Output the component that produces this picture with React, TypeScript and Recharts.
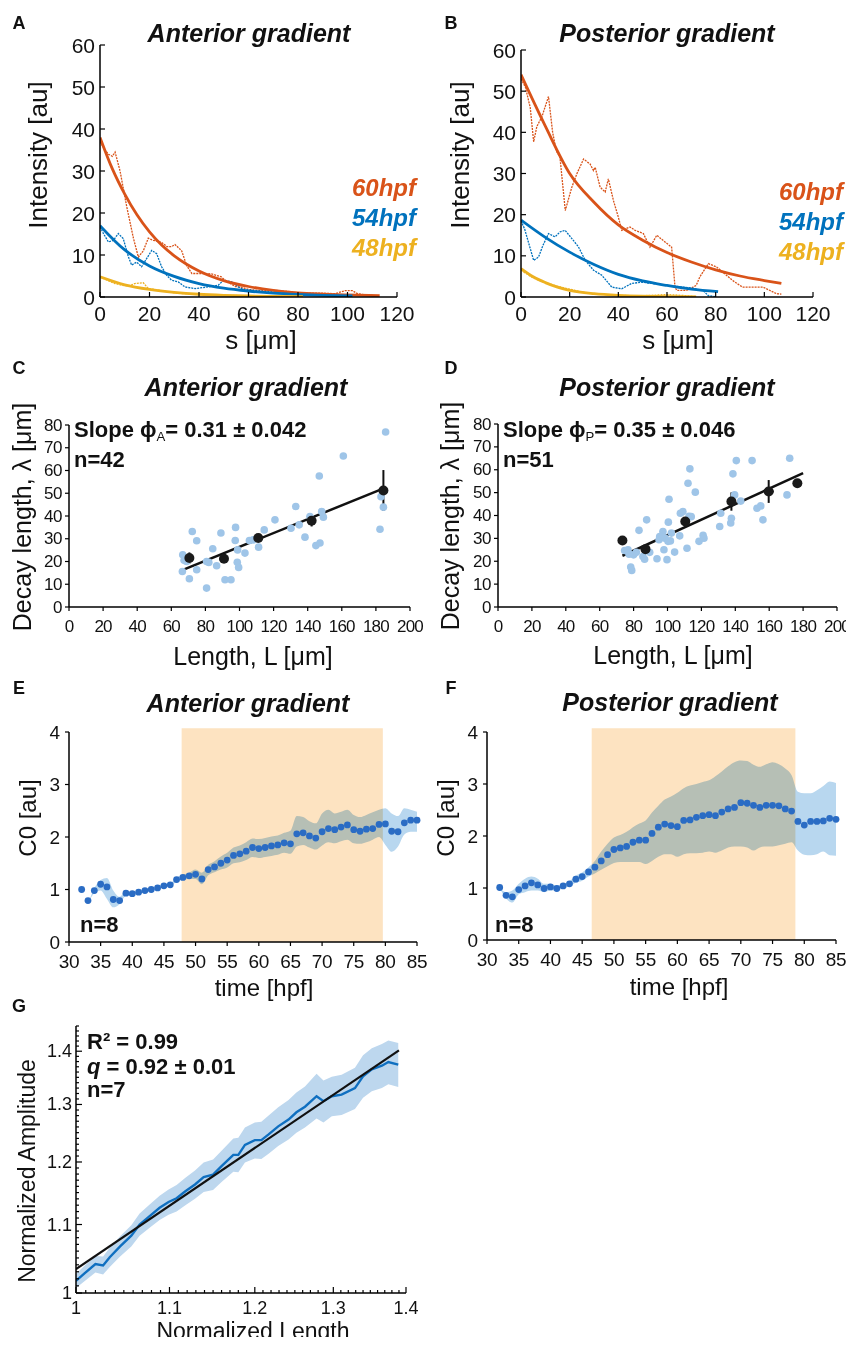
import React from 'react';
import {
  ComposedChart,
  Line,
  Area,
  Scatter,
  XAxis,
  YAxis,
  ErrorBar,
  ReferenceArea,
} from 'recharts';

const FONT = '"Liberation Sans", Arial, Helvetica, sans-serif';
const RED = '#d95319';
const BLUE = '#0072bd';
const GOLD = '#edb120';

// ---------- A / B : intensity profiles, [s, intensity] ----------
const aFit60 = [[0, 38], [5, 30.5], [10, 24.5], [15, 19.5], [20, 15.5], [25, 12.3], [30, 9.8], [35, 7.8], [40, 6.2], [50, 3.9], [60, 2.5], [70, 1.6], [80, 1.0], [90, 0.7], [100, 0.5], [113, 0.3]];
const aFit54 = [[0, 17], [10, 11.2], [20, 7.4], [30, 4.9], [40, 3.2], [50, 2.1], [60, 1.4], [70, 0.9], [80, 0.6], [90, 0.4], [102, 0.25]];
const aFit48 = [[0, 4.8], [10, 2.9], [20, 1.8], [30, 1.1], [40, 0.65], [50, 0.4], [60, 0.25], [70, 0.15], [82, 0.1]];
const aRaw60 = [[0, 37], [2, 35], [3.4, 34], [5, 33.5], [6.1, 34.5], [8.1, 30], [10.8, 21.5], [13.5, 14], [15.5, 9.5], [17.5, 11], [19.5, 14], [21.5, 13.5], [24.9, 13], [27, 12], [28.9, 12], [30.3, 12.5], [33, 11], [35, 7.5], [37.1, 5.6], [41, 5.6], [45, 5.5], [49, 4.8], [50.5, 4], [54.6, 2.5], [57.3, 2.3], [60, 1.8], [65, 1.5], [70, 1.6], [75, 1.4], [80, 1.0], [85, 0.9], [90, 0.9], [95, 0.8], [99, 1.5], [102, 1.5], [104, 0.8], [108, 0.4], [113, 0.3]];
const aRaw54 = [[0, 16.7], [1.4, 15.1], [3.4, 13.1], [5.4, 13.5], [7.4, 15.1], [9.4, 13.9], [11.5, 9.5], [12.8, 7.6], [14.8, 8.3], [16.8, 7.2], [18.9, 9.2], [20.9, 11.1], [22.9, 10.3], [24.9, 7.2], [26.9, 5.2], [28.9, 4.0], [31.6, 3.6], [34.3, 2.4], [38.4, 2.0], [43.7, 2.4], [47.8, 2.8], [49.9, 4.0], [53.2, 3.6], [55.9, 2.4], [58, 1.8], [65, 1.4], [75, 1.0], [85, 0.8], [95, 0.6], [102, 0.5]];
const aRaw48 = [[0, 4.8], [3, 4.0], [6, 3.2], [9, 2.8], [11.5, 2.6], [14, 3.2], [17.5, 3.4], [19.5, 2.0], [25, 1.5], [31, 0.9], [40, 0.6], [50, 0.4], [60, 0.3], [70, 0.2], [82, 0.1]];

const bFit60 = [[0, 54], [10, 41.5], [20, 30], [30, 23], [40, 17.5], [50, 13.8], [60, 10.8], [70, 8.5], [80, 6.6], [90, 5.1], [100, 4.0], [107, 3.3]];
const bFit54 = [[0, 18.7], [10, 14.5], [20, 10.9], [30, 7.9], [40, 5.5], [50, 3.9], [60, 2.8], [70, 1.9], [81, 1.3]];
const bFit48 = [[0, 6.9], [5, 4.9], [10, 3.5], [15, 2.4], [20, 1.6], [30, 0.8], [40, 0.4], [50, 0.2], [60, 0.1], [72, 0.05]];
const bRaw60 = [[0, 53], [1.8, 51], [3.8, 46], [5.2, 37.7], [6.5, 41.4], [8.6, 43.8], [11.3, 48.7], [13, 40], [14.5, 35.5], [16, 34], [18.2, 21], [20.9, 26.7], [23, 30], [25.7, 33.5], [28.4, 32.3], [29.8, 30.7], [30.5, 31.5], [32.5, 26.7], [34.6, 25.5], [35.9, 28.7], [38, 23.4], [40, 19.4], [41.4, 16.2], [44.8, 17], [46.9, 16.2], [50.3, 15.4], [53, 12.1], [55.8, 15], [58.5, 13.7], [61.9, 12.1], [63.3, 2.4], [64, 1.6], [68, 1.6], [72, 2.8], [73.5, 4.9], [77, 8.1], [80.4, 7.3], [83, 6], [87, 4], [91, 2.4], [99.5, 2.4], [105, 0.8], [107, 0.7]];
const bRaw54 = [[0, 18.5], [1.5, 16.5], [3.2, 13], [5.2, 8.9], [7.2, 9.7], [9, 12.5], [11.3, 15.4], [14, 14.6], [16, 15.8], [18.1, 16.2], [20.9, 14.2], [23.6, 12.2], [26.4, 8.9], [29.8, 6.5], [33.2, 5.3], [37.3, 2.4], [41.4, 2.0], [45.5, 3.3], [49.6, 3.6], [55, 3.2], [60, 2.8], [65, 2.5], [70, 2.2], [75, 1.5], [77, 0.3], [80, 0.1]];
const bRaw48 = [[0, 6.5], [5, 4.6], [10, 3.5], [15, 2.6], [20, 1.9], [25, 1.2], [30, 0.8], [40, 0.4], [50, 0.3], [60, 0.6], [66, 0.4], [72, 0.1]];

const sTicks = [0, 20, 40, 60, 80, 100, 120];
const intensityTicks = [0, 10, 20, 30, 40, 50, 60];

// ---------- C / D : decay length vs length, [L, lambda] ----------
const cPoints = [[66.7, 23], [66.5, 15.6], [72.3, 33.2], [74.9, 29.1], [69, 20], [70.6, 12.4], [74.9, 16.4], [80.7, 20], [82, 19.6], [80.7, 8.3], [84.3, 25.6], [86.6, 18.1], [89.1, 32.5], [91.5, 12], [95, 12], [97.7, 35], [97.5, 29.2], [98.9, 25.1], [98.7, 19.7], [99.5, 17.4], [103.2, 23.7], [105.8, 29.2], [108, 29.5], [111.2, 26.3], [114.5, 33.9], [120.8, 38.3], [130.2, 34.6], [133, 44.2], [135, 36.1], [138.4, 30.7], [141.3, 39.8], [144.8, 27], [147.2, 28.1], [146.8, 57.6], [148.2, 42], [149.2, 39.5], [160.9, 66.4], [182.4, 34.2], [183, 48.5], [184.4, 43.9], [185.7, 76.9], [67.5, 20.5]];
// [L, lambda, yErr, xErr]
const cMeans = [[70.6, 21.5, 2.5, 0], [90.9, 21.2, 1.5, 0], [111, 30.3, 1.5, 0], [142.3, 37.9, 2.5, 0], [184.4, 51.2, 9, 0]];
const cFit = [[66.1, 16.1], [182.4, 51.5]];

const dPoints = [[74.7, 24.7], [77.3, 23.1], [78.3, 17.5], [78.9, 16], [80, 22.8], [81.6, 23.9], [83.2, 33.5], [86.5, 20.9], [87.7, 38.1], [89.5, 23.9], [93.8, 21.1], [95, 29.4], [97.3, 33], [97.9, 25], [98.5, 30.1], [99.7, 20.7], [100.5, 37.1], [100.9, 47.1], [101.7, 28.9], [104.2, 24], [107.2, 31.1], [107.6, 41], [111.5, 25.7], [112.1, 54.1], [113.2, 60.4], [112.7, 39.6], [116.4, 50.2], [118.6, 28.7], [121, 31.3], [121.5, 30.1], [131.4, 41], [130.8, 35.2], [137.3, 36.7], [137.7, 38.8], [138.6, 58.2], [139.6, 49], [140.6, 64], [143.2, 46.3], [149.9, 64], [152.8, 43.2], [155, 44.2], [156.3, 38.1], [170.5, 49], [172.1, 65], [85.5, 22.1], [95.4, 30.8], [102.3, 32.3], [109.1, 41.7], [76.7, 25], [100.3, 28.7], [114, 39.5]];
const dMeans = [[73.4, 29.1, 0, 0], [87, 25.3, 1, 0], [110.5, 37.4, 1.5, 0], [137.7, 46.1, 4, 1.5], [159.7, 50.5, 5, 3], [176.6, 54.1, 0, 0]];
const dFit = [[73.4, 22.4], [180, 58.5]];

const lenTicks = [0, 20, 40, 60, 80, 100, 120, 140, 160, 180, 200];
const lambdaTicks = [0, 10, 20, 30, 40, 50, 60, 70, 80];

// ---------- E / F : C0 over time ----------
const hpf = [32, 33, 34, 35, 36, 37, 38, 39, 40, 41, 42, 43, 44, 45, 46, 47, 48, 49, 50, 51, 52, 53, 54, 55, 56, 57, 58, 59, 60, 61, 62, 63, 64, 65, 66, 67, 68, 69, 70, 71, 72, 73, 74, 75, 76, 77, 78, 79, 80, 81, 82, 83, 84, 85];
const eC0 = [1.0, 0.79, 0.98, 1.1, 1.05, 0.81, 0.79, 0.93, 0.92, 0.95, 0.98, 1.0, 1.03, 1.07, 1.09, 1.19, 1.23, 1.26, 1.29, 1.2, 1.38, 1.43, 1.5, 1.56, 1.65, 1.68, 1.73, 1.8, 1.78, 1.8, 1.83, 1.85, 1.89, 1.87, 2.06, 2.08, 2.02, 1.98, 2.1, 2.16, 2.14, 2.19, 2.23, 2.14, 2.11, 2.15, 2.16, 2.24, 2.25, 2.11, 2.1, 2.27, 2.32, 2.32];
const eLo = [1.0, 0.79, 0.93, 0.98, 0.82, 0.66, 0.72, 0.88, 0.89, 0.92, 0.95, 0.97, 1.0, 1.04, 1.06, 1.15, 1.18, 1.2, 1.2, 1.1, 1.27, 1.33, 1.38, 1.42, 1.5, 1.52, 1.56, 1.62, 1.6, 1.62, 1.64, 1.66, 1.7, 1.68, 1.82, 1.85, 1.8, 1.76, 1.84, 1.9, 1.88, 1.92, 1.95, 1.88, 1.87, 1.9, 1.95, 2.0, 1.85, 1.72, 1.82, 2.05, 2.1, 2.1];
const eHi = [1.0, 0.79, 1.03, 1.18, 1.22, 0.98, 0.86, 0.97, 0.95, 0.98, 1.01, 1.03, 1.06, 1.1, 1.12, 1.23, 1.28, 1.32, 1.38, 1.32, 1.47, 1.54, 1.63, 1.7, 1.8, 1.84, 1.9, 1.97, 1.96, 1.98, 2.01, 2.03, 2.08, 2.12, 2.4, 2.38, 2.3, 2.26, 2.45, 2.52, 2.45, 2.48, 2.52, 2.42, 2.38, 2.42, 2.47, 2.52, 2.55, 2.45, 2.4, 2.55, 2.52, 2.48];
const eShade = [47.8, 79.6];

const fC0 = [1.01, 0.86, 0.83, 0.97, 1.04, 1.1, 1.06, 0.99, 1.02, 0.99, 1.04, 1.08, 1.17, 1.22, 1.31, 1.4, 1.52, 1.64, 1.74, 1.77, 1.8, 1.88, 1.92, 1.92, 2.05, 2.17, 2.23, 2.2, 2.18, 2.3, 2.31, 2.36, 2.39, 2.41, 2.39, 2.46, 2.52, 2.55, 2.64, 2.63, 2.59, 2.55, 2.59, 2.59, 2.58, 2.52, 2.48, 2.28, 2.21, 2.28, 2.28, 2.29, 2.34, 2.32];
const fLo = [1.0, 0.8, 0.72, 0.88, 0.92, 0.95, 0.95, 0.92, 0.95, 0.95, 1.0, 1.03, 1.1, 1.14, 1.22, 1.28, 1.35, 1.42, 1.48, 1.5, 1.5, 1.5, 1.5, 1.46, 1.52, 1.6, 1.65, 1.65, 1.6, 1.65, 1.67, 1.67, 1.68, 1.7, 1.68, 1.72, 1.78, 1.8, 1.8, 1.78, 1.72, 1.78, 1.8, 1.8, 1.82, 1.85, 1.88, 1.72, 1.64, 1.63, 1.65, 1.7, 1.63, 1.62];
const fHi = [1.0, 0.92, 0.95, 1.08, 1.18, 1.22, 1.18, 1.08, 1.08, 1.04, 1.08, 1.13, 1.24, 1.3, 1.4, 1.52, 1.7, 1.85, 1.97, 2.02, 2.08, 2.17, 2.24, 2.3, 2.45, 2.58, 2.7, 2.76, 2.83, 2.92, 2.97, 3.0, 3.04, 3.07, 3.15, 3.24, 3.34, 3.42, 3.45, 3.44, 3.37, 3.33, 3.38, 3.42, 3.38, 3.3, 3.17, 2.85, 2.82, 2.82, 2.88, 2.96, 3.05, 3.02];
const fShade = [46.5, 78.6];

const timeTicks = [30, 35, 40, 45, 50, 55, 60, 65, 70, 75, 80, 85];
const c0Ticks = [0, 1, 2, 3, 4];

// ---------- G : normalized amplitude vs normalized length (log-log) ----------
const gLen = [1.0, 1.009, 1.02, 1.028, 1.035, 1.046, 1.058, 1.067, 1.078, 1.089, 1.099, 1.108, 1.118, 1.129, 1.139, 1.15, 1.16, 1.174, 1.18, 1.188, 1.2, 1.208, 1.217, 1.229, 1.242, 1.252, 1.263, 1.278, 1.287, 1.298, 1.311, 1.329, 1.34, 1.352, 1.366, 1.375, 1.389];
const gAmp = [1.017, 1.028, 1.041, 1.039, 1.051, 1.067, 1.083, 1.1, 1.113, 1.126, 1.135, 1.141, 1.152, 1.163, 1.175, 1.179, 1.193, 1.212, 1.212, 1.229, 1.237, 1.237, 1.247, 1.261, 1.273, 1.286, 1.296, 1.315, 1.306, 1.315, 1.318, 1.33, 1.352, 1.365, 1.372, 1.379, 1.374];
const gLo = [1.007, 1.017, 1.029, 1.026, 1.037, 1.052, 1.067, 1.083, 1.095, 1.107, 1.115, 1.12, 1.13, 1.14, 1.151, 1.154, 1.167, 1.184, 1.183, 1.199, 1.206, 1.205, 1.214, 1.227, 1.238, 1.25, 1.259, 1.275, 1.268, 1.279, 1.281, 1.292, 1.312, 1.324, 1.33, 1.337, 1.332];
const gHi = [1.027, 1.039, 1.053, 1.052, 1.065, 1.082, 1.099, 1.117, 1.131, 1.145, 1.155, 1.162, 1.174, 1.186, 1.199, 1.204, 1.219, 1.24, 1.241, 1.259, 1.268, 1.269, 1.28, 1.295, 1.308, 1.322, 1.333, 1.357, 1.344, 1.351, 1.355, 1.368, 1.392, 1.406, 1.414, 1.421, 1.416];
const gFit = [[1, 1.034], [1.39, 1.4015]];
const gMajor = [1, 1.1, 1.2, 1.3, 1.4];
const gMinorX = Array.from({ length: 41 }, (_, i) => +(1 + i / 100).toFixed(2));
const gMinorY = Array.from({ length: 46 }, (_, i) => +(1 + i / 100).toFixed(2));

// ---------- helpers ----------
const toXY = (rows: number[][]) => rows.map(([x, y]) => ({ x, y }));
const toMeans = (rows: number[][]) => rows.map(([x, y, ey, ex]) => ({ x, y, ey, ex }));

type Frame = { left: number; top: number; right: number; bottom: number };
const YW = 60;
const XH = 44;
const MT = 14;
const MR = 32;
const AXIS = { stroke: '#000', strokeWidth: 1.5 };

const chartSize = (f: Frame) => ({
  width: f.right - f.left + YW + MR,
  height: f.bottom - f.top + MT + XH,
});

type TickCfg = {
  side: 'x' | 'y';
  len: number;
  inward: boolean;
  gap: number;
  size: number;
  spacing?: number;
  major?: number[];
  minorLen?: number;
};

const makeTick = (cfg: TickCfg) => (props: any) => {
  const { x, y, payload } = props;
  const v = payload.value as number;
  const isMajor = !cfg.major || cfg.major.some((m) => Math.abs(m - v) < 1e-6);
  const len = isMajor ? cfg.len : cfg.minorLen ?? 0;
  const dir = cfg.inward ? -1 : 1;
  const textStyle = { fontFamily: FONT, fontSize: cfg.size, letterSpacing: cfg.spacing ?? 0 };
  if (cfg.side === 'x') {
    return (
      <g>
        {len > 0 && <line x1={x} x2={x} y1={y} y2={y + dir * len} stroke="#000" strokeWidth={1.2} />}
        {isMajor && (
          <text x={x} y={y + cfg.gap} textAnchor="middle" dominantBaseline="central" style={textStyle} fill="#111">
            {String(v)}
          </text>
        )}
      </g>
    );
  }
  return (
    <g>
      {len > 0 && <line x1={x} x2={x - dir * len} y1={y} y2={y} stroke="#000" strokeWidth={1.2} />}
      {isMajor && (
        <text x={x - cfg.gap} y={y} textAnchor="end" dominantBaseline="central" style={textStyle} fill="#111">
          {String(v)}
        </text>
      )}
    </g>
  );
};

const dotShape = (r: number, fill: string) => (p: any) => <circle cx={p.cx} cy={p.cy} r={r} fill={fill} />;

const Txt = ({
  x, y, size, children, bold = false, italic = false, color = '#111', anchor = 'center', rotate = false,
}: {
  x: number; y: number; size: number; children: React.ReactNode; bold?: boolean; italic?: boolean;
  color?: string; anchor?: 'center' | 'left' | 'right'; rotate?: boolean;
}) => {
  const tx = anchor === 'center' ? '-50%' : anchor === 'left' ? '0' : '-100%';
  return (
    <div
      style={{
        position: 'absolute', left: x, top: y,
        transform: `translate(${tx}, -50%)${rotate ? ' rotate(-90deg)' : ''}`,
        fontFamily: FONT, fontSize: size, fontWeight: bold ? 700 : 400,
        fontStyle: italic ? 'italic' : 'normal', color, whiteSpace: 'nowrap', lineHeight: 1,
      }}
    >
      {children}
    </div>
  );
};

// ---------- panels ----------
const IntensityPanel = ({ frame, fits, raws }: { frame: Frame; fits: number[][][]; raws: number[][][] }) => {
  const { width, height } = chartSize(frame);
  const colors = [RED, BLUE, GOLD];
  return (
    <div style={{ position: 'absolute', left: frame.left - YW, top: frame.top - MT }}>
      <ComposedChart width={width} height={height} margin={{ top: MT, right: MR, bottom: 0, left: 0 }}>
        <XAxis type="number" dataKey="x" domain={[0, 120]} ticks={sTicks} interval={0} allowDataOverflow
          tickSize={0} tickMargin={0} tickLine={false} axisLine={AXIS} height={XH}
          tick={makeTick({ side: 'x', len: 5, inward: true, gap: 16, size: 21 })} />
        <YAxis type="number" domain={[0, 60]} ticks={intensityTicks} interval={0} allowDataOverflow
          tickSize={0} tickMargin={0} tickLine={false} axisLine={AXIS} width={YW}
          tick={makeTick({ side: 'y', len: 5, inward: true, gap: 5, size: 21 })} />
        {raws.map((r, i) => (
          <Line key={`r${i}`} data={toXY(r)} dataKey="y" type="linear" stroke={colors[i]} strokeWidth={1.3}
            strokeDasharray="2 1" dot={false} activeDot={false} isAnimationActive={false} />
        ))}
        {fits.map((f, i) => (
          <Line key={`f${i}`} data={toXY(f)} dataKey="y" type="monotone" stroke={colors[i]} strokeWidth={2.8}
            dot={false} activeDot={false} isAnimationActive={false} />
        ))}
      </ComposedChart>
    </div>
  );
};

const DecayPanel = ({ frame, points, means, fit }: { frame: Frame; points: number[][]; means: number[][]; fit: number[][] }) => {
  const { width, height } = chartSize(frame);
  return (
    <div style={{ position: 'absolute', left: frame.left - YW, top: frame.top - MT }}>
      <ComposedChart width={width} height={height} margin={{ top: MT, right: MR, bottom: 0, left: 0 }}>
        <XAxis type="number" dataKey="x" domain={[0, 200]} ticks={lenTicks} interval={0} allowDataOverflow
          tickSize={0} tickMargin={0} tickLine={false} axisLine={AXIS} height={XH}
          tick={makeTick({ side: 'x', len: 4, inward: false, gap: 19, size: 17, spacing: -0.8 })} />
        <YAxis type="number" domain={[0, 80]} ticks={lambdaTicks} interval={0} allowDataOverflow
          tickSize={0} tickMargin={0} tickLine={false} axisLine={AXIS} width={YW}
          tick={makeTick({ side: 'y', len: 4, inward: false, gap: 7, size: 17, spacing: -0.5 })} />
        <Scatter data={toXY(points)} dataKey="y" shape={dotShape(3.8, '#9fc5e8')} isAnimationActive={false} />
        <Line data={toXY(fit)} dataKey="y" type="linear" stroke="#111" strokeWidth={2.5} dot={false}
          activeDot={false} isAnimationActive={false} />
        <Scatter data={toMeans(means)} dataKey="y" shape={dotShape(5, '#1a1a1a')} isAnimationActive={false}>
          <ErrorBar dataKey="ey" direction="y" width={0} stroke="#111" strokeWidth={2} />
          <ErrorBar dataKey="ex" direction="x" width={0} stroke="#111" strokeWidth={2} />
        </Scatter>
      </ComposedChart>
    </div>
  );
};

const TimePanel = ({ frame, c0, lo, hi, shade }: { frame: Frame; c0: number[]; lo: number[]; hi: number[]; shade: number[] }) => {
  const { width, height } = chartSize(frame);
  const data = hpf.map((t, i) => ({ x: t, c0: c0[i], band: [lo[i], hi[i]] }));
  return (
    <div className="blend" style={{ position: 'absolute', left: frame.left - YW, top: frame.top - MT }}>
      <ComposedChart width={width} height={height} data={data} margin={{ top: MT, right: MR, bottom: 0, left: 0 }}>
        <XAxis type="number" dataKey="x" domain={[30, 85]} ticks={timeTicks} interval={0}
          tickSize={0} tickMargin={0} tickLine={false} axisLine={AXIS} height={XH}
          tick={makeTick({ side: 'x', len: 4, inward: false, gap: 19, size: 19, spacing: -0.3 })} />
        <YAxis type="number" domain={[0, 4]} ticks={c0Ticks} interval={0}
          tickSize={0} tickMargin={0} tickLine={false} axisLine={AXIS} width={YW}
          tick={makeTick({ side: 'y', len: 4, inward: false, gap: 9, size: 19 })} />
        <ReferenceArea x1={shade[0]} x2={shade[1]} y1={0} y2={4.07} fill="#fde3c1" fillOpacity={1}
          stroke="none" ifOverflow="visible" />
        <Area dataKey="band" type="monotone" fill="#b8d7ef" fillOpacity={1} stroke="none"
          activeDot={false} isAnimationActive={false} />
        <Line dataKey="c0" stroke="none" strokeWidth={0} dot={{ r: 3.4, fill: '#2a6cc4', stroke: 'none' }}
          activeDot={false} isAnimationActive={false} />
      </ComposedChart>
    </div>
  );
};

const ScalingPanel = ({ frame }: { frame: Frame }) => {
  const { width, height } = chartSize(frame);
  const data = gLen.map((x, i) => ({ x, amp: gAmp[i], band: [gLo[i], gHi[i]] }));
  return (
    <div style={{ position: 'absolute', left: frame.left - YW, top: frame.top - MT }}>
      <ComposedChart width={width} height={height} data={data} margin={{ top: MT, right: MR, bottom: 0, left: 0 }}>
        <XAxis type="number" dataKey="x" scale="log" domain={[1, 1.4]} ticks={gMinorX} interval={0} allowDataOverflow
          tickSize={0} tickMargin={0} tickLine={false} axisLine={AXIS} height={XH}
          tick={makeTick({ side: 'x', len: 6, minorLen: 3, inward: true, gap: 15, size: 18, major: gMajor })} />
        <YAxis type="number" scale="log" domain={[1, 1.45]} ticks={gMinorY} interval={0} allowDataOverflow
          tickSize={0} tickMargin={0} tickLine={false} axisLine={AXIS} width={YW}
          tick={makeTick({ side: 'y', len: 6, minorLen: 3, inward: true, gap: 4, size: 18, major: gMajor })} />
        <Area dataKey="band" type="linear" fill="#bdd7ee" fillOpacity={1} stroke="none" activeDot={false}
          isAnimationActive={false} />
        <Line dataKey="amp" type="linear" stroke="#0f6fc0" strokeWidth={2.4} dot={false} activeDot={false}
          isAnimationActive={false} />
        <Line data={toXY(gFit)} dataKey="y" type="linear" stroke="#111" strokeWidth={2.2} dot={false}
          activeDot={false} isAnimationActive={false} />
      </ComposedChart>
    </div>
  );
};

const frameA: Frame = { left: 100, top: 45, right: 397, bottom: 297 };
const frameB: Frame = { left: 521, top: 50, right: 813, bottom: 297 };
const frameC: Frame = { left: 69, top: 425, right: 410, bottom: 607 };
const frameD: Frame = { left: 498, top: 424, right: 837, bottom: 607 };
const frameE: Frame = { left: 69, top: 732, right: 417, bottom: 942 };
const frameF: Frame = { left: 487, top: 732, right: 836, bottom: 940 };
const frameG: Frame = { left: 76, top: 1026, right: 406, bottom: 1293 };

const sub = (s: string) => <span style={{ fontSize: '0.6em', verticalAlign: '-0.3em', fontWeight: 400 }}>{s}</span>;

const BLEND_CSS =
  '.blend .recharts-area, .blend .recharts-area-area, .blend .recharts-area path { mix-blend-mode: multiply; }';

export default function App() {
  return (
    <div style={{ position: 'relative', width: 854, height: 1345, margin: -8, background: '#fff', overflow: 'hidden' }}>
      <style>{BLEND_CSS}</style>

      <IntensityPanel frame={frameA} fits={[aFit60, aFit54, aFit48]} raws={[aRaw60, aRaw54, aRaw48]} />
      <IntensityPanel frame={frameB} fits={[bFit60, bFit54, bFit48]} raws={[bRaw60, bRaw54, bRaw48]} />
      <DecayPanel frame={frameC} points={cPoints} means={cMeans} fit={cFit} />
      <DecayPanel frame={frameD} points={dPoints} means={dMeans} fit={dFit} />
      <TimePanel frame={frameE} c0={eC0} lo={eLo} hi={eHi} shade={eShade} />
      <TimePanel frame={frameF} c0={fC0} lo={fLo} hi={fHi} shade={fShade} />
      <ScalingPanel frame={frameG} />

      {/* panel letters */}
      <Txt x={19} y={23} size={18} bold>A</Txt>
      <Txt x={451} y={23} size={18} bold>B</Txt>
      <Txt x={19} y={368} size={18} bold>C</Txt>
      <Txt x={451} y={368} size={18} bold>D</Txt>
      <Txt x={19} y={688} size={18} bold>E</Txt>
      <Txt x={451} y={688} size={18} bold>F</Txt>
      <Txt x={19} y={1006} size={18} bold>G</Txt>

      {/* titles */}
      <Txt x={249} y={33} size={25} bold italic>Anterior gradient</Txt>
      <Txt x={667} y={33} size={25} bold italic>Posterior gradient</Txt>
      <Txt x={246} y={387} size={25} bold italic>Anterior gradient</Txt>
      <Txt x={667} y={387} size={25} bold italic>Posterior gradient</Txt>
      <Txt x={248} y={703} size={25} bold italic>Anterior gradient</Txt>
      <Txt x={670} y={702} size={25} bold italic>Posterior gradient</Txt>

      {/* legends A, B */}
      <Txt x={416} y={188} size={24} bold italic color={RED} anchor="right">60hpf</Txt>
      <Txt x={416} y={218} size={24} bold italic color={BLUE} anchor="right">54hpf</Txt>
      <Txt x={416} y={248} size={24} bold italic color={GOLD} anchor="right">48hpf</Txt>
      <Txt x={843} y={192} size={24} bold italic color={RED} anchor="right">60hpf</Txt>
      <Txt x={843} y={222} size={24} bold italic color={BLUE} anchor="right">54hpf</Txt>
      <Txt x={843} y={252} size={24} bold italic color={GOLD} anchor="right">48hpf</Txt>

      {/* axis labels */}
      <Txt x={38} y={155} size={26} rotate>Intensity [au]</Txt>
      <Txt x={460} y={155} size={26} rotate>Intensity [au]</Txt>
      <Txt x={261} y={340} size={26}>s [μm]</Txt>
      <Txt x={678} y={340} size={26}>s [μm]</Txt>
      <Txt x={22} y={517} size={25} rotate>Decay length, λ [μm]</Txt>
      <Txt x={450} y={516} size={25} rotate>Decay length, λ [μm]</Txt>
      <Txt x={253} y={656} size={25}>Length, L [μm]</Txt>
      <Txt x={673} y={655} size={25}>Length, L [μm]</Txt>
      <Txt x={28} y={818} size={24} rotate>C0 [au]</Txt>
      <Txt x={446} y={818} size={24} rotate>C0 [au]</Txt>
      <Txt x={264} y={988} size={24}>time [hpf]</Txt>
      <Txt x={679} y={987} size={24}>time [hpf]</Txt>
      <Txt x={27} y={1171} size={23} rotate>Normalized Amplitude</Txt>
      <Txt x={253} y={1331} size={23}>Normalized Length</Txt>

      {/* annotations */}
      <Txt x={74} y={431} size={22} bold anchor="left">Slope ϕ{sub('A')}= 0.31 ± 0.042</Txt>
      <Txt x={74} y={460} size={22} bold anchor="left">n=42</Txt>
      <Txt x={503} y={431} size={22} bold anchor="left">Slope ϕ{sub('P')}= 0.35 ± 0.046</Txt>
      <Txt x={503} y={460} size={22} bold anchor="left">n=51</Txt>
      <Txt x={80} y={925} size={22} bold anchor="left">n=8</Txt>
      <Txt x={495} y={925} size={22} bold anchor="left">n=8</Txt>
      <Txt x={87} y={1042} size={22} bold anchor="left">R² = 0.99</Txt>
      <Txt x={87} y={1067} size={22} bold anchor="left"><i>q</i> = 0.92 ± 0.01</Txt>
      <Txt x={87} y={1090} size={22} bold anchor="left">n=7</Txt>
    </div>
  );
}
